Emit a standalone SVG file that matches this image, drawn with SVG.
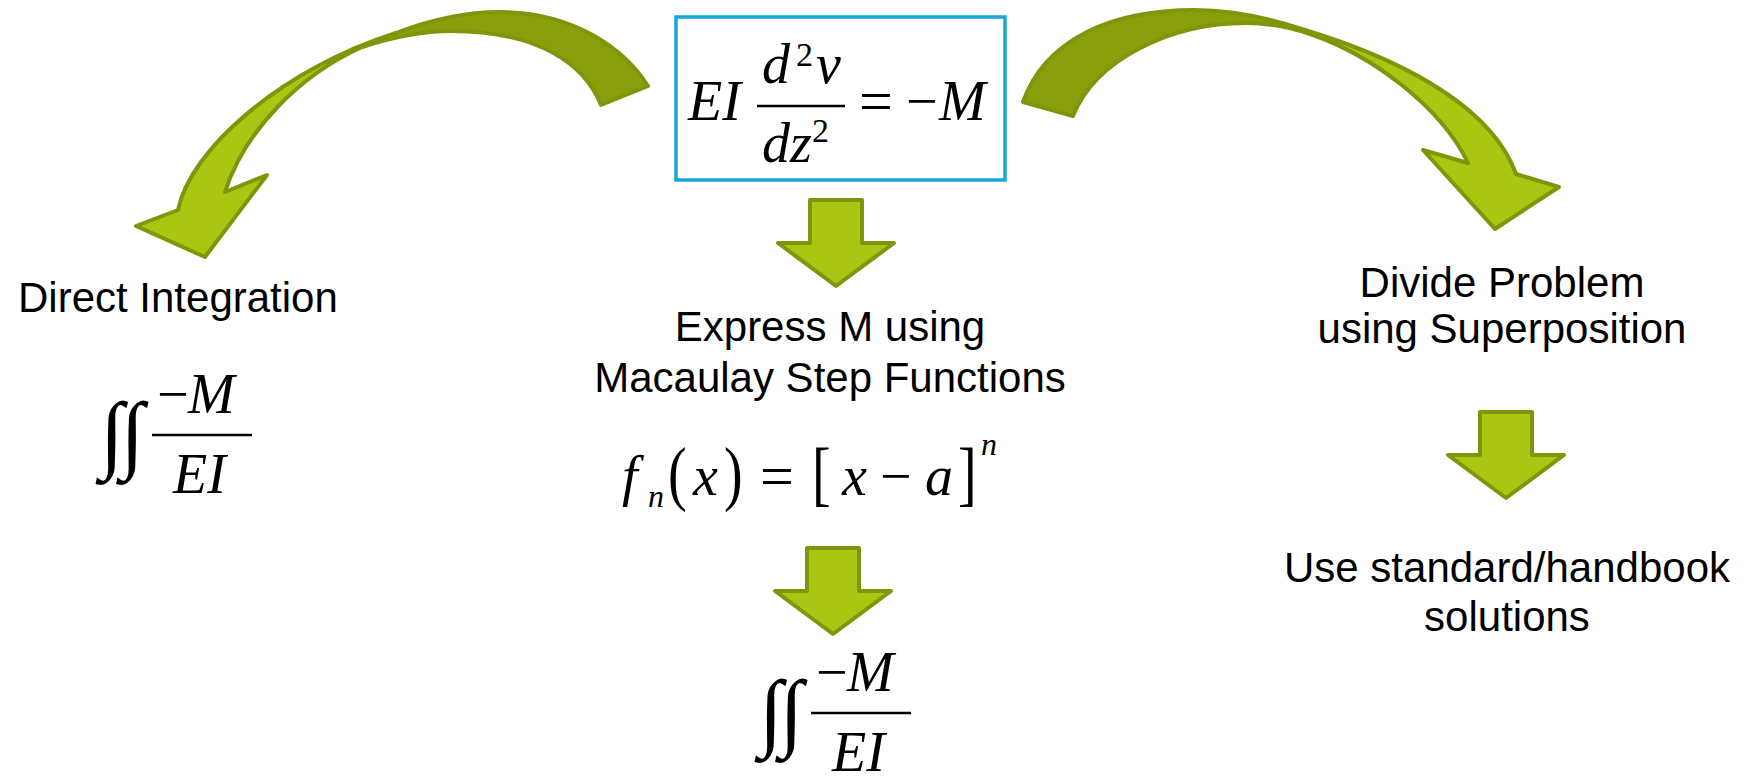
<svg xmlns="http://www.w3.org/2000/svg" width="1752" height="778" viewBox="0 0 1752 778">
<style>
.lbl{font-family:"Liberation Sans",Arial,sans-serif;font-size:42px;fill:#000}
.mi{font-family:"Liberation Serif","Times New Roman",serif;font-style:italic;fill:#000}
.mu{font-family:"Liberation Serif","Times New Roman",serif;font-style:normal;fill:#000}
.bar{stroke:#000;stroke-width:2.5}
.light{fill:#AAC512;stroke:#80960A;stroke-width:4;stroke-linejoin:round}
.dark{fill:#8A9E0C;stroke:#80960A;stroke-width:4;stroke-linejoin:round}
</style>
<rect width="1752" height="778" fill="#fff"/>

<g id="connectors">
  <g id="arrow-left">
    <path class="dark" d="M396 33 C430 20 465 12 500 12 C575 12 625 50 648 86 L601 105 C585 65 540 31 451 31 C420 31 390 38 362 47 Z"/>
    <path class="light" d="M225 192 L267 175 L205 257 L136 226 L178 210 C190 150 280 70 396 33 L362 47 C300 75 245 130 225 192 Z"/>
  </g>
  <g id="arrow-right">
    <path class="dark" d="M1023 102 C1045 40 1110 10 1195 10 C1235 10 1275 20 1305 30 L1313 35 C1290 27 1270 23 1246 23 C1170 23 1095 60 1073 116 Z"/>
    <path class="light" d="M1468 163 L1423 150 L1495 229 L1559 187 L1516 174 C1495 115 1420 65 1305 30 L1313 35 C1370 55 1440 105 1468 163 Z"/>
  </g>
  <path id="arrow-mid-1" class="light" d="M810 200 L862 200 L862 243 L894 243 L836 286 L778 243 L810 243 Z"/>
  <path id="arrow-mid-2" class="light" d="M807 548 L859 548 L859 591 L891 591 L833 634 L775 591 L807 591 Z"/>
  <path id="arrow-right-2" class="light" d="M1480 412 L1532 412 L1532 455 L1564 455 L1506 498 L1448 455 L1480 455 Z"/>
</g>

<g id="n-equation">
  <rect x="676" y="17" width="329" height="163" fill="#fff" stroke="#19A6D8" stroke-width="3.5"/>
  <text class="mi" x="688" y="120" font-size="56">EI</text>
  <text class="mi" x="762" y="83" font-size="56">d</text>
  <text class="mu" x="796" y="66" font-size="34">2</text>
  <text class="mi" x="816" y="83" font-size="56">v</text>
  <line class="bar" x1="757" y1="106" x2="845" y2="106"/>
  <text class="mi" x="762" y="162" font-size="56">d</text>
  <text class="mi" x="790" y="162" font-size="56">z</text>
  <text class="mu" x="812" y="142" font-size="34">2</text>
  <text class="mu" x="859" y="121" font-size="60">=</text>
  <text class="mu" x="906" y="120" font-size="56">−</text>
  <text class="mi" x="939" y="120" font-size="56">M</text>
</g>

<g id="n-direct">
  <text class="lbl" x="18" y="312">Direct Integration</text>
  <g id="int-left">
    <text class="mu" x="100" y="462" font-size="86" letter-spacing="-3">∫∫</text>
    <text class="mu" x="157" y="413" font-size="56">−</text>
    <text class="mi" x="188" y="413" font-size="56">M</text>
    <line class="bar" x1="152" y1="435" x2="252" y2="435"/>
    <text class="mi" x="173" y="493" font-size="56">EI</text>
  </g>
</g>

<g id="n-macaulay">
  <text class="lbl" x="830" y="341" text-anchor="middle">Express M using</text>
  <text class="lbl" x="830" y="392" text-anchor="middle">Macaulay Step Functions</text>
  <text class="mi" x="622" y="495" font-size="56">f</text>
  <text class="mi" x="648" y="507" font-size="32">n</text>
  <text class="mu" transform="translate(668 497) scale(1 1.3)" font-size="56">(</text>
  <text class="mi" x="693" y="495" font-size="56">x</text>
  <text class="mu" transform="translate(724 497) scale(1 1.3)" font-size="56">)</text>
  <text class="mu" x="760" y="496" font-size="60">=</text>
  <text class="mu" transform="translate(812 497) scale(1 1.3)" font-size="56">[</text>
  <text class="mi" x="842" y="495" font-size="56">x</text>
  <text class="mu" x="880" y="495" font-size="56">−</text>
  <text class="mi" x="925" y="495" font-size="56">a</text>
  <text class="mu" transform="translate(958 497) scale(1 1.3)" font-size="56">]</text>
  <text class="mi" x="981" y="455" font-size="32">n</text>
</g>

<g id="n-integral-bottom" transform="translate(659,278)">
  <text class="mu" x="100" y="462" font-size="86" letter-spacing="-3">∫∫</text>
  <text class="mu" x="157" y="413" font-size="56">−</text>
  <text class="mi" x="188" y="413" font-size="56">M</text>
  <line class="bar" x1="152" y1="435" x2="252" y2="435"/>
  <text class="mi" x="173" y="493" font-size="56">EI</text>
</g>

<g id="n-superposition">
  <text class="lbl" x="1502" y="297" text-anchor="middle">Divide Problem</text>
  <text class="lbl" x="1502" y="343" text-anchor="middle">using Superposition</text>
</g>

<g id="n-handbook">
  <text class="lbl" x="1507" y="582" text-anchor="middle">Use standard/handbook</text>
  <text class="lbl" x="1507" y="631" text-anchor="middle">solutions</text>
</g>
</svg>
